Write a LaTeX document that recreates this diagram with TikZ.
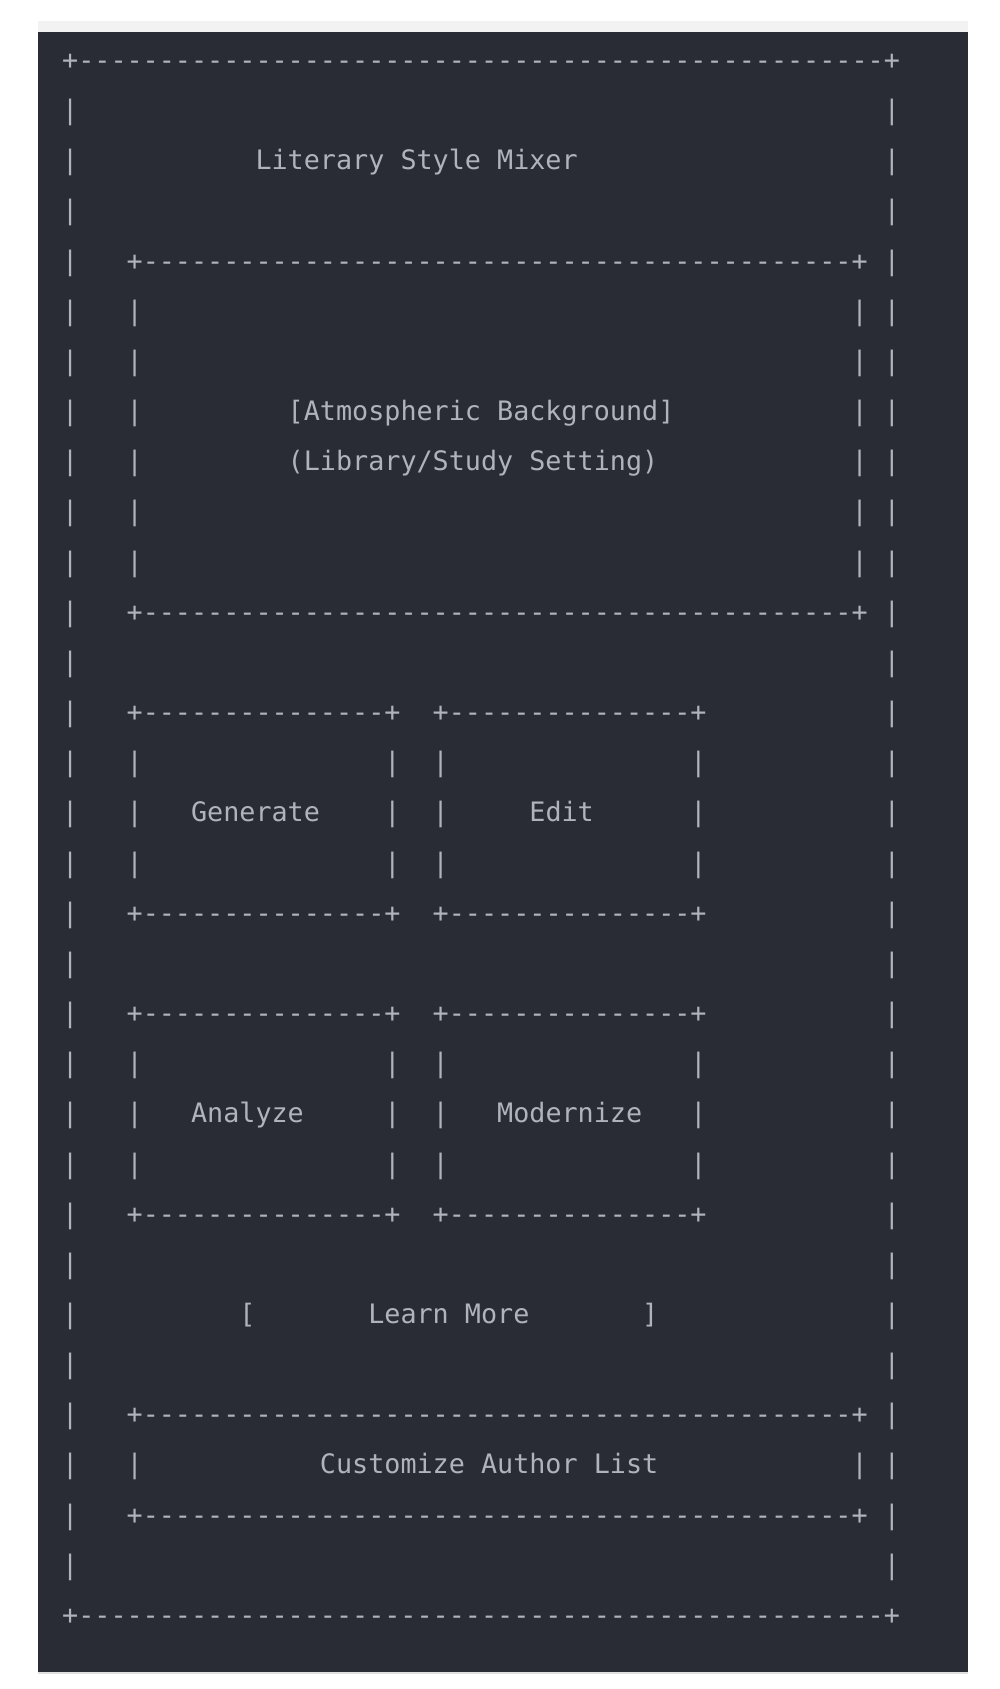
\documentclass[tikz,border=0pt]{standalone}
\usepackage{fontspec}
\newfontfamily\asciifont{DejaVu Sans Mono}[WordSpace={1,0,0}]
\definecolor{bgdark}{HTML}{292C34}
\definecolor{strip}{HTML}{F2F2F2}
\definecolor{fg}{HTML}{AFB3BB}
% a run of hyphens, kept apart so that no ligature joins them
\newcommand\dashrun[1]{\ifnum#1>0 -\kern0pt \expandafter\dashrun\expandafter{\the\numexpr#1-1\relax}\fi}
\newcommand\hrun[1]{+\kern0pt\dashrun{#1}+}
% one piece of text at a character cell: name, column, row, text
\newcommand\asc[4]{\node[asc] (#1) at ({62+16.11*(#2)},{69.5+50.16*((#3)-1)}) {#4};}
% a box drawn with + - | : name, left col, right col, top row, bottom row
\newcommand\asciibox[5]{%
  \asc{#1top}{#2}{#4}{\hrun{\numexpr#3-#2-1\relax}}
  \asc{#1bot}{#2}{#5}{\hrun{\numexpr#3-#2-1\relax}}
  \pgfmathtruncatemacro\rowA{#4+1}\pgfmathtruncatemacro\rowB{#5-1}
  \foreach \r in {\rowA,...,\rowB}{\asc{#1l\r}{#2}{\r}{|}\asc{#1r\r}{#3}{\r}{|}}
}
\begin{document}
\begin{tikzpicture}[x=1pt,y=-1pt,
  asc/.style={font={\asciifont\fontsize{26.76pt}{30pt}\selectfont}, text=fg, inner sep=0pt, anchor=base west}]
\useasboundingbox (0,0) rectangle (1000,1689);
\fill[white] (0,0) rectangle (1000,1689);
\fill[strip] (37.5,21) rectangle (968,32);
\fill[black!12] (37.5,1672) rectangle (968,1674);
\fill[bgdark] (37.5,32) rectangle (968,1672);
% outer frame
\asciibox{outer}{0}{51}{1}{32}
% atmospheric background panel
\asciibox{bg}{4}{49}{5}{12}
% action boxes
\asciibox{genbox}{4}{20}{14}{18}
\asciibox{editbox}{23}{39}{14}{18}
\asciibox{anabox}{4}{20}{20}{24}
\asciibox{modbox}{23}{39}{20}{24}
% author list bar
\asciibox{custbox}{4}{49}{28}{30}
% texts
\asc{title}{12}{3}{Literary Style Mixer}
\asc{atm}{14}{8}{[Atmospheric Background]}
\asc{lib}{14}{9}{(Library/Study Setting)}
\asc{gen}{8}{16}{Generate}
\asc{edit}{29}{16}{Edit}
\asc{ana}{8}{22}{Analyze}
\asc{mod}{27}{22}{Modernize}
\asc{lbr}{11}{26}{[}
\asc{learn}{19}{26}{Learn More}
\asc{rbr}{36}{26}{]}
\asc{cust}{16}{29}{Customize Author List}
\end{tikzpicture}
\end{document}
